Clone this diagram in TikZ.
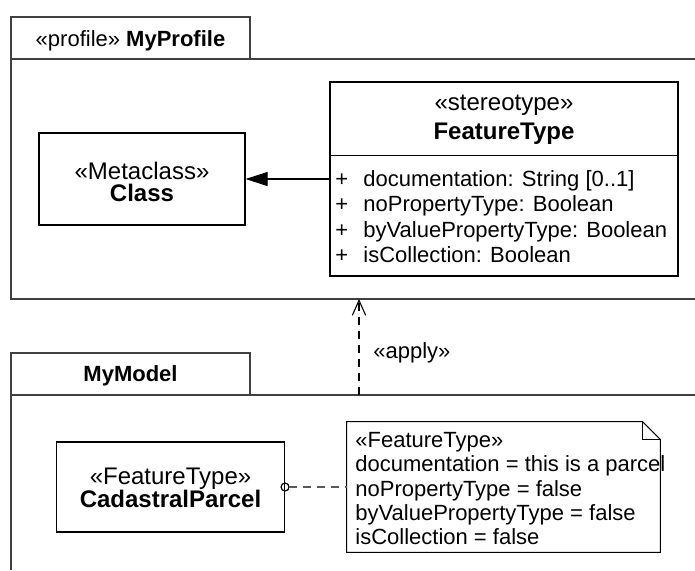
\documentclass[tikz,border=0pt]{standalone}
\usepackage{fontspec}
\setmainfont{Liberation Sans}
\usetikzlibrary{arrows.meta,calc}
\begin{document}
\begin{tikzpicture}[x=0.5pt,y=-0.5pt,
  pkg/.style={line width=0.8pt, draw=black!75},
  umlbox/.style={draw, line width=0.55pt, inner sep=0pt, fill=white},
  txt/.style={inner sep=0pt, font=\fontsize{11}{13}\selectfont},
  btxt/.style={inner sep=0pt, font=\fontsize{11}{13}\selectfont\bfseries},
  ctxt/.style={inner sep=0pt, font=\fontsize{12}{14}\selectfont},
  cbtxt/.style={inner sep=0pt, font=\fontsize{12}{14}\selectfont\bfseries},
  dep/.style={line width=0.55pt, dash pattern=on 4pt off 3pt},
  link/.style={line width=0.6pt, draw=black!65, dash pattern=on 4pt off 3pt}]
\useasboundingbox (0,0) rectangle (695,570);
% packages
\draw[pkg] (695,59) -- (11,59) -- (11,299) -- (695,299);
\draw[pkg] (11,59) -- (11,17) -- (250,17) -- (250,59);
\draw[pkg] (695,395) -- (11,395) -- (11,570);
\draw[pkg] (11,395) -- (11,353) -- (250,353) -- (250,395);
\node[txt, anchor=base] (pkgA) at (130.5,46) {«profile» \textbf{MyProfile}};
\node[btxt, anchor=base] (pkgB) at (130.5,381) {MyModel};
% Class
\node[umlbox, minimum width=103pt, minimum height=46pt] (cls) at (142,179) {};
\node[ctxt, anchor=base] (clsS) at (142,179.5) {«Metaclass»};
\node[cbtxt, anchor=base] (clsN) at (142,201) {Class};
% FeatureType
\node[umlbox, minimum width=174pt, minimum height=97pt] (ft) at (504,179) {};
\draw[line width=0.55pt] ($(ft.north west)+(0,74)$) -- ($(ft.north east)+(0,74)$);
\node[ctxt, anchor=base] (ftS) at (504,110) {«stereotype»};
\node[cbtxt, anchor=base] (ftN) at (504,139) {FeatureType};
\node[txt, anchor=base west] (p1) at (335,186) {+};
\node[txt, anchor=base west] (p2) at (335,211.5) {+};
\node[txt, anchor=base west] (p3) at (335,237) {+};
\node[txt, anchor=base west] (p4) at (335,262.5) {+};
\node[txt, anchor=base west] (a1) at (363,186) {documentation: String [0..1]};
\node[txt, anchor=base west] (a2) at (363,211.5) {noPropertyType: Boolean};
\node[txt, anchor=base west] (a3) at (363,237) {byValuePropertyType: Boolean};
\node[txt, anchor=base west] (a4) at (363,262.5) {isCollection: Boolean};
\draw[line width=0.55pt, -{Triangle[length=11pt,width=7pt]}] (ft.west) -- (cls.east);
% apply dependency
\coordinate (applyS) at (359,395);
\coordinate (applyE) at (359,299);
\draw[dep, -{Straight Barb[length=7.5pt,width=6.7pt]}] (applyS) -- (applyE);
\node[txt, anchor=base west] (applyL) at (373,358) {«apply»};
% CadastralParcel
\node[umlbox, minimum width=114pt, minimum height=45pt] (cp) at (170.5,487) {};
\node[ctxt, anchor=base] (cpS) at (170.5,484.5) {«FeatureType»};
\node[cbtxt, anchor=base] (cpN) at (170.5,507.5) {CadastralParcel};
% note
\node[minimum width=156.5pt, minimum height=65pt, inner sep=0pt] (note) at (503.5,487) {};
\draw[line width=0.55pt, fill=white] (note.north west) -- ($(note.north east)+(-18,0)$) -- ($(note.north east)+(0,18)$) -- (note.south east) -- (note.south west) -- cycle;
\draw[line width=0.55pt] ($(note.north east)+(-18,0)$) -- ($(note.north east)+(-18,18)$) -- ($(note.north east)+(0,18)$);
\node[txt, anchor=base west] (n1) at (355,447) {«FeatureType»};
\node[txt, anchor=base west] (n2) at (355,471.5) {documentation = this is a parcel};
\node[txt, anchor=base west] (n3) at (355,496) {noPropertyType = false};
\node[txt, anchor=base west] (n4) at (355,520.5) {byValuePropertyType = false};
\node[txt, anchor=base west] (n5) at (355,544) {isCollection = false};
\draw[line width=0.6pt] (cp.east) circle (4);
\draw[link] ($(cp.east)+(4,0)$) -- (note.west);
\end{tikzpicture}
\end{document}
